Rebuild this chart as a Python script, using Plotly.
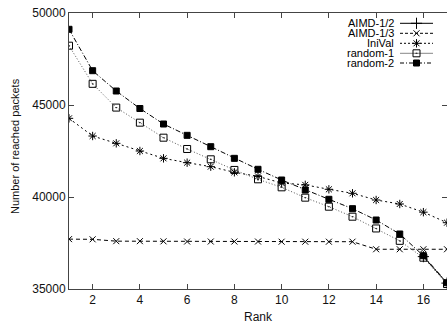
import plotly.graph_objects as go

rank = list(range(1, 18))
aimd_half = [None] * 15 + [36760, 35320]
aimd_third = [37710, 37700, 37600, 37600, 37590, 37580, 37580, 37580, 37580,
              37570, 37570, 37570, 37570, 37160, 37160, 37160, 37160]
inival = [44275, 43315, 42917, 42500, 42101, 41866, 41649, 41342, 41120,
          40760, 40660, 40418, 40201, 39837, 39620, 39176, 38603]
random1 = [48223, 46150, 44860, 44040, 43224, 42609, 42049, 41470, 40962,
           40526, 39964, 39473, 38930, 38290, 37618, 36701, 35272]
random2 = [49114, 46864, 45761, 44809, 43967, 43351, 42734, 42101, 41505,
           40924, 40380, 39875, 39365, 38750, 37989, 36810, 35343]
x_ticks = list(range(2, 17, 2))
y_ticks = [35000, 40000, 45000, 50000]

names = ["AIMD-1/2", "AIMD-1/3", "IniVal", "random-1", "random-2"]
series = [aimd_half, aimd_third, inival, random1, random2]
styles = [
    dict(dash="solid", color="#000", symbol="cross-thin-open", size=8),
    dict(dash="4px,3px", color="#000", symbol="x-thin-open", size=6),
    dict(dash="2px,3px", color="#000", symbol="asterisk-open", size=7),
    dict(dash="1px,2px", color="#555", symbol="square-open-dot", size=7),
    dict(dash="5px,2px,1px,2px", color="#000", symbol="square", size=6),
]

W, H = 447, 327
PL, PR, PT, PB = 69, 447, 13, 289  # plot area in pixels


def paper_x(px):
    return (px - PL) / (PR - PL)


def paper_y(py):
    return (PB - py) / (PB - PT)


fig = go.Figure()
for name, ys, st in zip(names, series, styles):
    fig.add_trace(go.Scatter(
        x=rank, y=ys, mode="lines+markers", name=name, showlegend=False,
        line=dict(color=st["color"], width=1, dash=st["dash"]),
        marker=dict(symbol=st["symbol"], size=st["size"], color="#000",
                    line=dict(color="#000", width=1)),
    ))

# custom legend (text left, sample right), in a pixel-mapped overlay axis
leg_y = [23.3, 33.3, 43.3, 53.3, 63.0]
leg_line_colors = ["#000", "#000", "#000", "#888", "#000"]
leg_dash = ["solid", "3px,2px", "2px,2px", "solid", "4px,2px,1px,2px"]
for name, st, ly, lc, ld in zip(names, styles, leg_y, leg_line_colors, leg_dash):
    fig.add_trace(go.Scatter(
        x=[400, 433], y=[ly, ly], xaxis="x2", yaxis="y2", mode="lines",
        line=dict(color=lc, width=1, dash=ld), showlegend=False, hoverinfo="skip"))
    fig.add_trace(go.Scatter(
        x=[416.5], y=[ly], xaxis="x2", yaxis="y2", mode="markers",
        marker=dict(symbol=st["symbol"], size=st["size"], color="#000",
                    line=dict(color="#000", width=1)),
        showlegend=False, hoverinfo="skip"))
    fig.add_annotation(x=395, y=ly, xref="x2", yref="y2", text=name,
                       showarrow=False, xanchor="right", yanchor="middle",
                       borderpad=0, font=dict(size=11, color="#000"))

# axis titles
fig.add_annotation(x=paper_x(258), y=paper_y(317), xref="paper", yref="paper",
                   text="Rank", showarrow=False, xanchor="center", yanchor="middle",
                   font=dict(size=12, color="#111"))
fig.add_annotation(x=paper_x(15), y=paper_y(146), xref="paper", yref="paper",
                   text="Number of reached packets", showarrow=False,
                   xanchor="center", yanchor="middle", textangle=-90,
                   font=dict(size=11, color="#111"))

axis_common = dict(showline=True, mirror="ticks", linecolor="#444", linewidth=1,
                   ticks="inside", ticklen=5, tickcolor="#444", showgrid=False,
                   zeroline=False, automargin=False, tickfont=dict(size=12, color="#111"))

fig.update_layout(
    width=W, height=H,
    margin=dict(l=PL, r=W - PR, t=PT, b=H - PB, autoexpand=False),
    paper_bgcolor="white", plot_bgcolor="white",
    font=dict(family="Liberation Sans, Arial, sans-serif", size=12, color="#111"),
    xaxis=dict(range=[1, 17], tickvals=x_ticks, **axis_common),
    yaxis=dict(range=[35000, 50000], tickvals=y_ticks, tickformat="d", **axis_common),
    xaxis2=dict(range=[PL, PR], overlaying="x", visible=False, fixedrange=True,
                automargin=False),
    yaxis2=dict(range=[PB, PT], overlaying="y", visible=False, fixedrange=True,
                automargin=False),
    showlegend=False,
)

fig.write_html("out.html",
               config={"displayModeBar": False},
               post_script="document.body.style.margin='0';"
                           "document.body.style.overflow='hidden';")
